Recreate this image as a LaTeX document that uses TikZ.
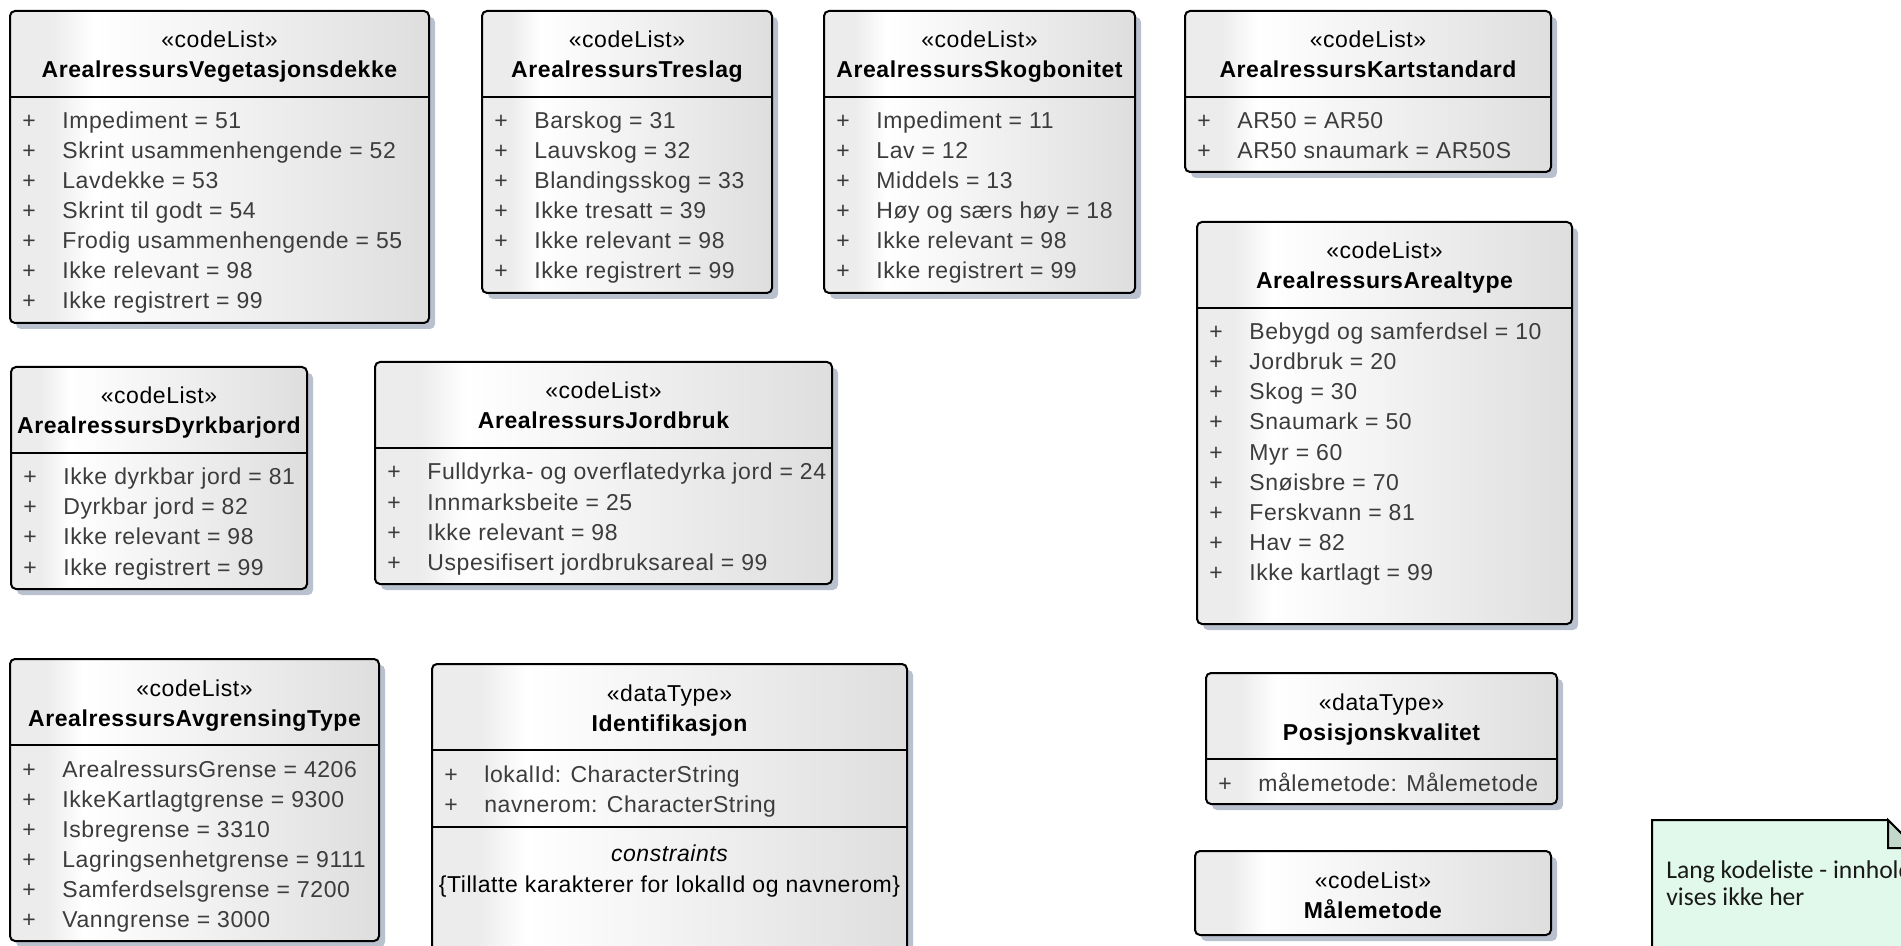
\documentclass[tikz,border=0pt]{standalone}
\usepackage{fontspec}
\setmainfont[LetterSpace=2.5]{Liberation Sans}
\newfontfamily\notefont{Carlito}
\usepackage{tikz}
\usetikzlibrary{calc}
\definecolor{itemgray}{HTML}{3C3C3C}
\definecolor{boxl}{HTML}{ECECEC}
\definecolor{boxr}{HTML}{DEDEDE}
\definecolor{shadowc}{HTML}{B9C0CE}
\definecolor{notefill}{HTML}{E1F9EB}
\definecolor{foldfill}{HTML}{C2D8CA}
\pgfdeclarehorizontalshading{umlshade}{100bp}{color(0bp)=(boxl); color(25bp)=(boxl); color(30bp)=(boxl); color(35bp)=(white); color(75bp)=(boxr); color(100bp)=(boxr)}
\tikzset{
  boxshadow/.style={fill=shadowc, rounded corners=2.5pt},
  boxfill/.style={shading=umlshade, rounded corners=2.5pt},
  boxline/.style={draw=black, line width=1pt, rounded corners=2.5pt},
  divline/.style={draw=black, line width=1pt},
  stereo/.style={anchor=base, inner sep=0pt, text=black, font=\fontsize{11.5}{14}\selectfont},
  cname/.style={anchor=base, inner sep=0pt, text=black, font=\fontsize{11.5}{14}\selectfont\bfseries},
  plus/.style={anchor=base, inner sep=0pt, text=itemgray, font=\fontsize{11.5}{14}\selectfont},
  item/.style={anchor=base west, inner sep=0pt, text=itemgray, font=\fontsize{11.5}{14}\selectfont},
  cons/.style={anchor=base, inner sep=0pt, text=black, font=\fontsize{11.5}{14}\selectfont},
  notebox/.style={draw=black, line width=1pt, fill=notefill},
  foldbox/.style={draw=black, line width=1pt, fill=foldfill},
  notetext/.style={anchor=base west, inner sep=0pt, text=black!90, font=\notefont\fontsize{12.8}{15}\selectfont},
}
\begin{document}
\begin{tikzpicture}[x=0.5pt, y=-0.5pt]
  \useasboundingbox (0,0) rectangle (1901,946);
  % class frames
  \foreach \n/\x/\y/\X/\Y in {veg/10/11/429/323, tre/482/11/772/293, skog/824/11/1135/293,
      kart/1185/11/1551/172, areal/1197/222/1572/624, dyrk/11/367/307/589, jord/375/362/832/584,
      avgr/10/659/379/941, ident/432/664/907/990, posi/1206/673/1557/804, male/1195/851/1551/935}{
    \fill[boxshadow] (\x+6,\y+6) rectangle (\X+6,\Y+6);
    \shade[boxfill] (\x,\y) rectangle (\X,\Y);
    \draw[boxline] (\x,\y) rectangle (\X,\Y);
  }
  \foreach \x/\X/\d in {10/429/97, 482/772/97, 824/1135/97, 1185/1551/97, 1197/1572/308,
      11/307/453, 375/832/448, 10/379/745, 432/907/750, 432/907/827, 1206/1557/759}
    \draw[divline] (\x,\d) -- (\X,\d);
  % headers
  \foreach \n/\s/\t/\x/\X/\y in {veg/codeList/ArealressursVegetasjonsdekke/10/429/11,
      tre/codeList/ArealressursTreslag/482/772/11, skog/codeList/ArealressursSkogbonitet/824/1135/11,
      kart/codeList/ArealressursKartstandard/1185/1551/11, areal/codeList/ArealressursArealtype/1197/1572/222,
      dyrk/codeList/ArealressursDyrkbarjord/11/307/367, jord/codeList/ArealressursJordbruk/375/832/362,
      avgr/codeList/ArealressursAvgrensingType/10/379/659, ident/dataType/Identifikasjon/432/907/664,
      posi/dataType/Posisjonskvalitet/1206/1557/673, male/codeList/Målemetode/1195/1551/851}{
    \node[stereo] (\n-st) at ({(\x+\X)/2},\y+37) {«\s»};
    \node[cname] (\n-nm) at ({(\x+\X)/2},\y+67) {\t};
  }
  % attributes
  \foreach \n/\x/\d/\list in {
      veg/10/97/{Impediment = 51, Skrint usammenhengende = 52, Lavdekke = 53, Skrint til godt = 54,
        Frodig usammenhengende = 55, Ikke relevant = 98, Ikke registrert = 99},
      tre/482/97/{Barskog = 31, Lauvskog = 32, Blandingsskog = 33, Ikke tresatt = 39,
        Ikke relevant = 98, Ikke registrert = 99},
      skog/824/97/{Impediment = 11, Lav = 12, Middels = 13, Høy og særs høy = 18,
        Ikke relevant = 98, Ikke registrert = 99},
      kart/1185/97/{AR50 = AR50, AR50 snaumark = AR50S},
      areal/1197/308/{Bebygd og samferdsel = 10, Jordbruk = 20, Skog = 30, Snaumark = 50, Myr = 60,
        Snøisbre = 70, Ferskvann = 81, Hav = 82, Ikke kartlagt = 99},
      dyrk/11/453/{Ikke dyrkbar jord = 81, Dyrkbar jord = 82, Ikke relevant = 98, Ikke registrert = 99},
      jord/375/448/{Fulldyrka- og overflatedyrka jord = 24, Innmarksbeite = 25, Ikke relevant = 98,
        Uspesifisert jordbruksareal = 99},
      avgr/10/745/{ArealressursGrense = 4206, IkkeKartlagtgrense = 9300, Isbregrense = 3310,
        Lagringsenhetgrense = 9111, Samferdselsgrense = 7200, Vanngrense = 3000},
      ident/432/750/{lokalId: CharacterString, navnerom: CharacterString},
      posi/1206/759/{målemetode: Målemetode}}
    \foreach \t [count=\i] in \list {
      \node[plus] (\n-p\i) at (\x+19,{\d+32+30*(\i-1)}) {+};
      \node[item] (\n-\i) at (\x+52,{\d+32+30*(\i-1)}) {\t};
    }
  % constraints
  \node[cons, font=\fontsize{11.5}{14}\selectfont\itshape] (ident-ch) at (669.5,861) {constraints};
  \node[cons] (ident-c1) at (669.5,892) {\{Tillatte karakterer for lokalId og navnerom\}};
  % note
  \draw[notebox] (1652,820) -- (1888,820) -- (1916,848) -- (1916,990) -- (1652,990) -- cycle;
  \draw[foldbox] (1888,820) -- (1888,848) -- (1916,848) -- cycle;
  \node[notetext] (note1) at (1666,878) {Lang kodeliste - innhold};
  \node[notetext] (note2) at (1666,905) {vises ikke her};
\end{tikzpicture}
\end{document}
